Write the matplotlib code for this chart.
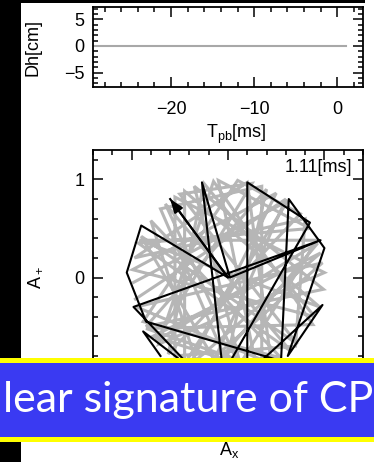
import matplotlib
matplotlib.use("Agg")
import matplotlib.pyplot as plt
from matplotlib.patches import Rectangle
from matplotlib.ticker import MultipleLocator

plt.rcParams['font.family'] = ['Liberation Sans', 'DejaVu Sans']
plt.rcParams['mathtext.default'] = 'regular'

# strain amplitude vs. time after bounce
t_ms = [-29.4, -20.0, -10.0, 0.0, 1.11]
dh_cm = [0.0, 0.0, 0.0, 0.0, 0.0]

# polarisation plane, faint (earlier) trajectory
gray_x = [-0.98, 0.62, -0.45, -0.45, 0.95, -0.92, 0.92, 0.05, -0.70, 0.35,
          0.35, -0.85, 0.88, -0.15, -0.72, 1.00, -0.55, -0.55, 0.70, 0.80,
          -0.97, 0.20, 0.45, -0.95, 0.98, -0.30, -0.80, 0.55, -0.88, 0.10,
          0.75, -0.62, -0.25, 0.90, -0.99, 0.50, -0.40, 0.96, -0.78, 0.30,
          -0.10, 0.85, -0.93, 0.65, -0.65, 0.15, -0.35, 0.99, -0.85, 0.40,
          -0.05, -0.90, 0.72, -0.50, 0.25, -0.75, 0.93, -0.20, 0.60, -0.96]
gray_y = [-0.05, 0.78, -0.88, 0.88, -0.30, 0.38, 0.38, -1.00, 0.70, 0.93,
          -0.92, -0.52, -0.48, 0.98, -0.68, 0.05, 0.82, -0.80, -0.70, 0.60,
          0.20, 0.97, -0.88, -0.30, 0.15, -0.95, 0.58, -0.82, -0.45, 0.99,
          0.65, -0.78, 0.96, -0.40, 0.08, 0.86, -0.90, 0.25, -0.60, -0.94,
          0.99, 0.50, 0.35, -0.75, 0.75, -0.97, 0.93, -0.12, -0.50, 0.90,
          -0.99, 0.42, -0.68, 0.85, 0.96, -0.65, 0.35, -0.97, 0.80, -0.22]

# last part of the trajectory, ending with the arrow
black_x = [-0.70, -0.88, -0.35, -0.98, 0.96, 0.02, -0.27, -0.05, 0.85, 0.20,
           0.20, 0.98, 0.62, 1.00, 0.63, 0.55, -0.85, -1.05, -0.90, 0.00, -0.60]
black_y = [-0.80, -0.55, -0.95, -0.30, 0.38, 0.00, 0.97, -0.98, 0.56, 0.97,
           -0.98, -0.28, -0.80, 0.30, 0.80, -0.85, -0.45, 0.05, 0.53, 0.00, 0.80]

time_label = "1.11[ms]"

fig = plt.figure(figsize=(3.74, 4.62), dpi=100)
W, H = 374.0, 462.0

def px_axes(x0, y0, x1, y1):
    return fig.add_axes([x0 / W, 1 - y1 / H, (x1 - x0) / W, (y1 - y0) / H])

# dark frame edges
fig.patches.append(Rectangle((0, 0), 21 / W, 1, transform=fig.transFigure,
                             facecolor='black', edgecolor='none', zorder=-1))
fig.patches.append(Rectangle((21 / W, 1 - 3 / H), 344 / W, 3 / H,
                             transform=fig.transFigure,
                             facecolor='black', edgecolor='none', zorder=-1))

def style_axes(ax):
    ax.tick_params(which='both', direction='in', top=True, right=True,
                   width=1.1, labelsize=13, pad=6)
    ax.tick_params(which='major', length=7)
    ax.tick_params(which='minor', length=3.5)
    for s in ax.spines.values():
        s.set_linewidth(1.3)

# top panel: Dh
ax1 = px_axes(93, 7, 363, 87)
ax1.plot(t_ms, dh_cm, color='#a8a8a8', lw=1.5)
ax1.set_xlim(-29.4, 3.1)
ax1.set_ylim(-7.7, 7.3)
ax1.xaxis.set_major_locator(MultipleLocator(10))
ax1.xaxis.set_minor_locator(MultipleLocator(2))
ax1.yaxis.set_major_locator(MultipleLocator(5))
ax1.yaxis.set_minor_locator(MultipleLocator(1))
style_axes(ax1)
ax1.tick_params(axis='x', pad=10)
ax1.set_xlabel(r'$T_{pb}$[ms]', fontsize=13)
ax1.xaxis.set_label_coords(0.53, -0.45)
ax1.set_ylabel('Dh[cm]', fontsize=13)
ax1.yaxis.set_label_coords(-0.19, 0.5)

# bottom panel: polarisation
ax2 = px_axes(93, 150, 363, 405)
ax2.plot(gray_x, gray_y, color='#b6b6b6', lw=2.2, solid_joinstyle='miter')
ax2.plot(black_x, black_y, color='black', lw=1.5)
ax2.annotate('', xy=(black_x[-1], black_y[-1]),
             xytext=(black_x[-2], black_y[-2]),
             arrowprops=dict(arrowstyle='-|>,head_length=0.8,head_width=0.3',
                             color='black', lw=1.5, shrinkA=0, shrinkB=0))
ax2.set_xlim(-1.4, 1.4)
ax2.set_ylim(-1.3, 1.3)
ax2.xaxis.set_major_locator(MultipleLocator(1))
ax2.xaxis.set_minor_locator(MultipleLocator(0.2))
ax2.set_yticks([-1, 0, 1], ['', '0', '1'])
ax2.yaxis.set_minor_locator(MultipleLocator(0.2))
style_axes(ax2)
ax2.tick_params(axis='x', labelbottom=False)
ax2.text(0.96, 0.93, time_label, transform=ax2.transAxes, ha='right',
         va='center', fontsize=13)
ax2.set_ylabel(r'$A_+$', fontsize=13)
ax2.yaxis.set_label_coords(-0.18, 0.5)
fig.text(229 / W, 1 - 450 / H, r'$A_x$', ha='center', va='center', fontsize=13)

# highlight banner across the lower panel
fig.patches.append(Rectangle((0, 1 - 442 / H), 1, 84 / H,
                             transform=fig.transFigure,
                             facecolor='#ffff00', edgecolor='none', zorder=5))
fig.patches.append(Rectangle((0, 1 - 437 / H), 1, 74 / H,
                             transform=fig.transFigure,
                             facecolor='#3a3af2', edgecolor='none', zorder=6))
banner = fig.text(3 / W, 1 - 400 / H, 'lear signature of CP', color='white',
                  fontsize=30, family=['Lato', 'DejaVu Sans'],
                  ha='left', va='center', zorder=7)

# fit banner text to the width of the strip
fig.canvas.draw()
bb = banner.get_window_extent()
banner.set_fontsize(30 * 371 / bb.width)

fig.savefig('out.png', dpi=100)
